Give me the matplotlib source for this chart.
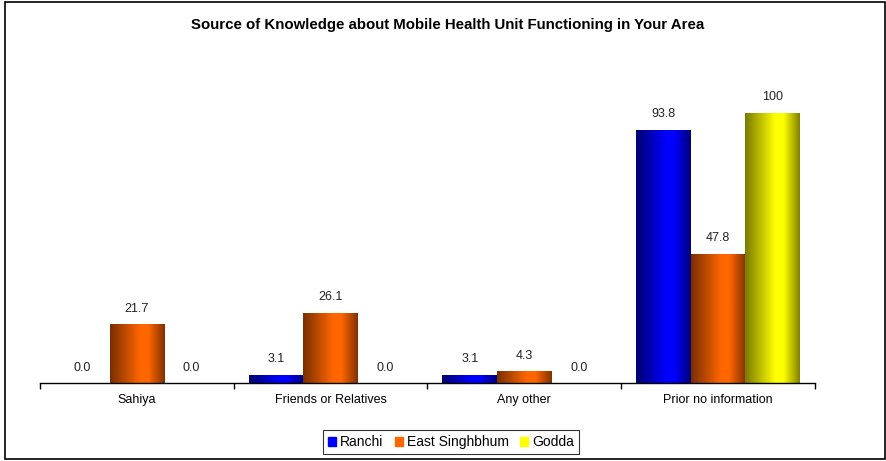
import numpy as np
import matplotlib
matplotlib.use("Agg")
import matplotlib.pyplot as plt
from matplotlib.colors import LinearSegmentedColormap
from matplotlib.patches import Rectangle, Patch

plt.rcParams['font.family'] = ['Liberation Sans', 'DejaVu Sans']

categories = ["Sahiya", "Friends or Relatives", "Any other", "Prior no information"]
series = ["Ranchi", "East Singhbhum", "Godda"]
ranchi = [0.0, 3.1, 3.1, 93.8]
east_singhbhum = [21.7, 26.1, 4.3, 47.8]
godda = [0.0, 0.0, 0.0, 100]

# (dark edge, bright middle) for the cylinder-like shading
shades = [("#000070", "#0000ff"), ("#7a2e00", "#ff6600"), ("#7a7a00", "#ffff00")]
flat = ["#0000ff", "#ff6600", "#ffff00"]

fig = plt.figure(figsize=(8.87, 4.61), dpi=100)
ax = fig.add_axes([40 / 887, 1 - 383 / 461, 775 / 887, 343 / 461])

x = np.arange(len(categories))
width = 0.282
grad = np.linspace(0, 1, 256)
# dark -> bright (around 60%) -> dark
profile = np.interp(grad, [0, 0.55, 0.7, 1], [0, 1, 1, 0.05]).reshape(1, -1)

for i, (name, vals) in enumerate(zip(series, [ranchi, east_singhbhum, godda])):
    cmap = LinearSegmentedColormap.from_list(name, list(shades[i]))
    pos = x + (i - 1) * width
    bars = ax.bar(pos, vals, width, color="none", edgecolor="none", zorder=2)
    for b, v in zip(bars, vals):
        if v > 0:
            im = ax.imshow(profile, cmap=cmap, aspect="auto", zorder=2,
                           extent=[b.get_x(), b.get_x() + b.get_width(), 0, v],
                           vmin=0, vmax=1)
            im.set_clip_path(b)
        label = f"{v:.0f}" if v >= 100 else f"{v:.1f}"
        ax.text(b.get_x() + b.get_width() / 2, v + 3.5, label,
                ha="center", va="bottom", fontsize=9, color="#222222")

ax.set_xlim(-0.5, len(categories) - 0.5)
ax.set_ylim(0, 127)
ax.set_yticks([])
for s in ["top", "right", "left"]:
    ax.spines[s].set_visible(False)
ax.spines["bottom"].set_linewidth(1.0)
ax.set_xticks(np.arange(len(categories) + 1) - 0.5)
ax.set_xticklabels([])
ax.set_xticks(x, minor=True)
ax.set_xticklabels(categories, minor=True, fontsize=9)
ax.tick_params(axis="x", which="major", length=4, direction="out", width=1)
ax.tick_params(axis="x", which="minor", length=0, pad=8)

handles = [Patch(facecolor=c, edgecolor=c) for c in flat]
leg = ax.legend(handles, series, loc="center", bbox_to_anchor=(451 / 887, 1 - 442 / 461),
                bbox_transform=fig.transFigure, ncol=3, fontsize=10, frameon=True,
                fancybox=False, edgecolor="black", handlelength=0.6, handleheight=0.6,
                handletextpad=0.3, columnspacing=0.8, borderpad=0.35)
leg.get_frame().set_linewidth(0.8)

fig.patches.append(Rectangle((5 / 887, 2 / 461), 880 / 887, 457 / 461,
                             transform=fig.transFigure, fill=False,
                             edgecolor="black", linewidth=1.2))

fig.text(448 / 887, 1 - 25 / 461,
         "Source of Knowledge about Mobile Health Unit Functioning in Your Area",
         ha="center", va="center", fontsize=10.8, fontweight="bold")

fig.savefig("out.png", dpi=100)
